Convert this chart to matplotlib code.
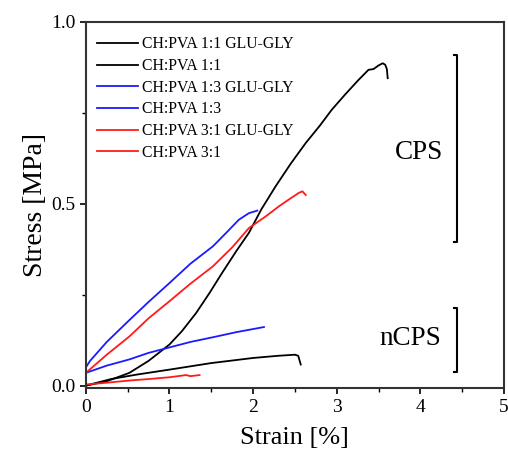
import numpy as np
import matplotlib.pyplot as plt

plt.rcParams['font.family'] = ['Liberation Serif', 'DejaVu Serif']

# strain [%] / stress [MPa]
glu11_x = [0.0, 0.25, 0.52, 0.75, 1.0, 1.15, 1.32, 1.48, 1.63, 1.8, 1.95, 2.1, 2.27, 2.45, 2.63, 2.8, 2.94, 3.1, 3.26, 3.38, 3.44, 3.5, 3.55, 3.58, 3.6, 3.61]
glu11_y = [0.0, 0.012, 0.035, 0.068, 0.113, 0.15, 0.2, 0.255, 0.31, 0.37, 0.42, 0.485, 0.548, 0.61, 0.667, 0.715, 0.758, 0.8, 0.84, 0.868, 0.87, 0.88, 0.886, 0.882, 0.87, 0.845]

pva11_x = [0.0, 0.3, 0.6, 1.0, 1.5, 2.0, 2.3, 2.5, 2.54, 2.57]
pva11_y = [0.0, 0.018, 0.03, 0.044, 0.062, 0.076, 0.082, 0.085, 0.082, 0.058]

glu13_x = [0.0, 0.05, 0.25, 0.52, 0.75, 1.0, 1.25, 1.52, 1.7, 1.83, 1.95, 2.05]
glu13_y = [0.05, 0.068, 0.12, 0.18, 0.23, 0.282, 0.335, 0.383, 0.425, 0.456, 0.474, 0.481]

pva13_x = [0.0, 0.25, 0.52, 0.75, 1.0, 1.25, 1.52, 1.8, 2.13]
pva13_y = [0.035, 0.055, 0.072, 0.09, 0.105, 0.12, 0.133, 0.147, 0.161]

glu31_x = [0.0, 0.25, 0.52, 0.75, 1.0, 1.25, 1.52, 1.75, 1.95, 2.15, 2.31, 2.45, 2.55, 2.59, 2.63]
glu31_y = [0.035, 0.085, 0.135, 0.185, 0.232, 0.28, 0.328, 0.38, 0.433, 0.465, 0.493, 0.515, 0.53, 0.534, 0.524]

pva31_x = [0.0, 0.25, 0.52, 0.75, 1.0, 1.2, 1.25, 1.36]
pva31_y = [0.003, 0.008, 0.014, 0.018, 0.023, 0.029, 0.026, 0.029]

labels = ['CH:PVA 1:1 GLU-GLY', 'CH:PVA 1:1', 'CH:PVA 1:3 GLU-GLY',
          'CH:PVA 1:3', 'CH:PVA 3:1 GLU-GLY', 'CH:PVA 3:1']
colors = ['black', 'black', '#1a1aff', '#1a1aff', '#ff1a1a', '#ff1a1a']
series = [(glu11_x, glu11_y), (pva11_x, pva11_y), (glu13_x, glu13_y),
          (pva13_x, pva13_y), (glu31_x, glu31_y), (pva31_x, pva31_y)]

fig = plt.figure(figsize=(5.08, 4.54), dpi=100)
ax = fig.add_axes([0.169, 0.145, 0.823, 0.807])

for (x, y), c, lab in zip(series, colors, labels):
    ax.plot(x, y, color=c, lw=1.3, label=lab)

ax.set_xlim(0, 5)
ax.set_ylim(-0.007, 1.0)
ax.set_xticks([0, 1, 2, 3, 4, 5])
ax.set_xticks(np.arange(0.5, 5, 1), minor=True)
ax.set_yticks([0.0, 0.5, 1.0])
ax.set_yticks([0.25, 0.75], minor=True)
ax.tick_params(which='major', length=4, width=1.2, labelsize=14, direction='out')
ax.tick_params(which='minor', length=3, width=1.0, direction='out')
for s in ax.spines.values():
    s.set_linewidth(1.5)
    s.set_color('#333333')

ax.set_xlabel('Strain [%]', fontsize=19, labelpad=8)
ax.set_ylabel('Stress [MPa]', fontsize=20, labelpad=2)

ax.legend(loc='upper left', frameon=False, fontsize=11.3, handlelength=2.6,
          handletextpad=0.25, labelspacing=0.36, borderaxespad=0.3,
          bbox_to_anchor=(0.0, 0.99))

# brackets for CPS / nCPS groups
bx = 4.44
for top, bot in [(0.909, 0.396), (0.214, 0.038)]:
    ax.plot([bx - 0.04, bx, bx, bx - 0.04], [top, top, bot, bot], color='black', lw=1.5)
ax.text(3.98, 0.64, 'CPS', fontsize=19.5, ha='center', va='center')
ax.text(3.88, 0.13, 'nCPS', fontsize=19.5, ha='center', va='center')

fig.savefig('out.png', dpi=100)
